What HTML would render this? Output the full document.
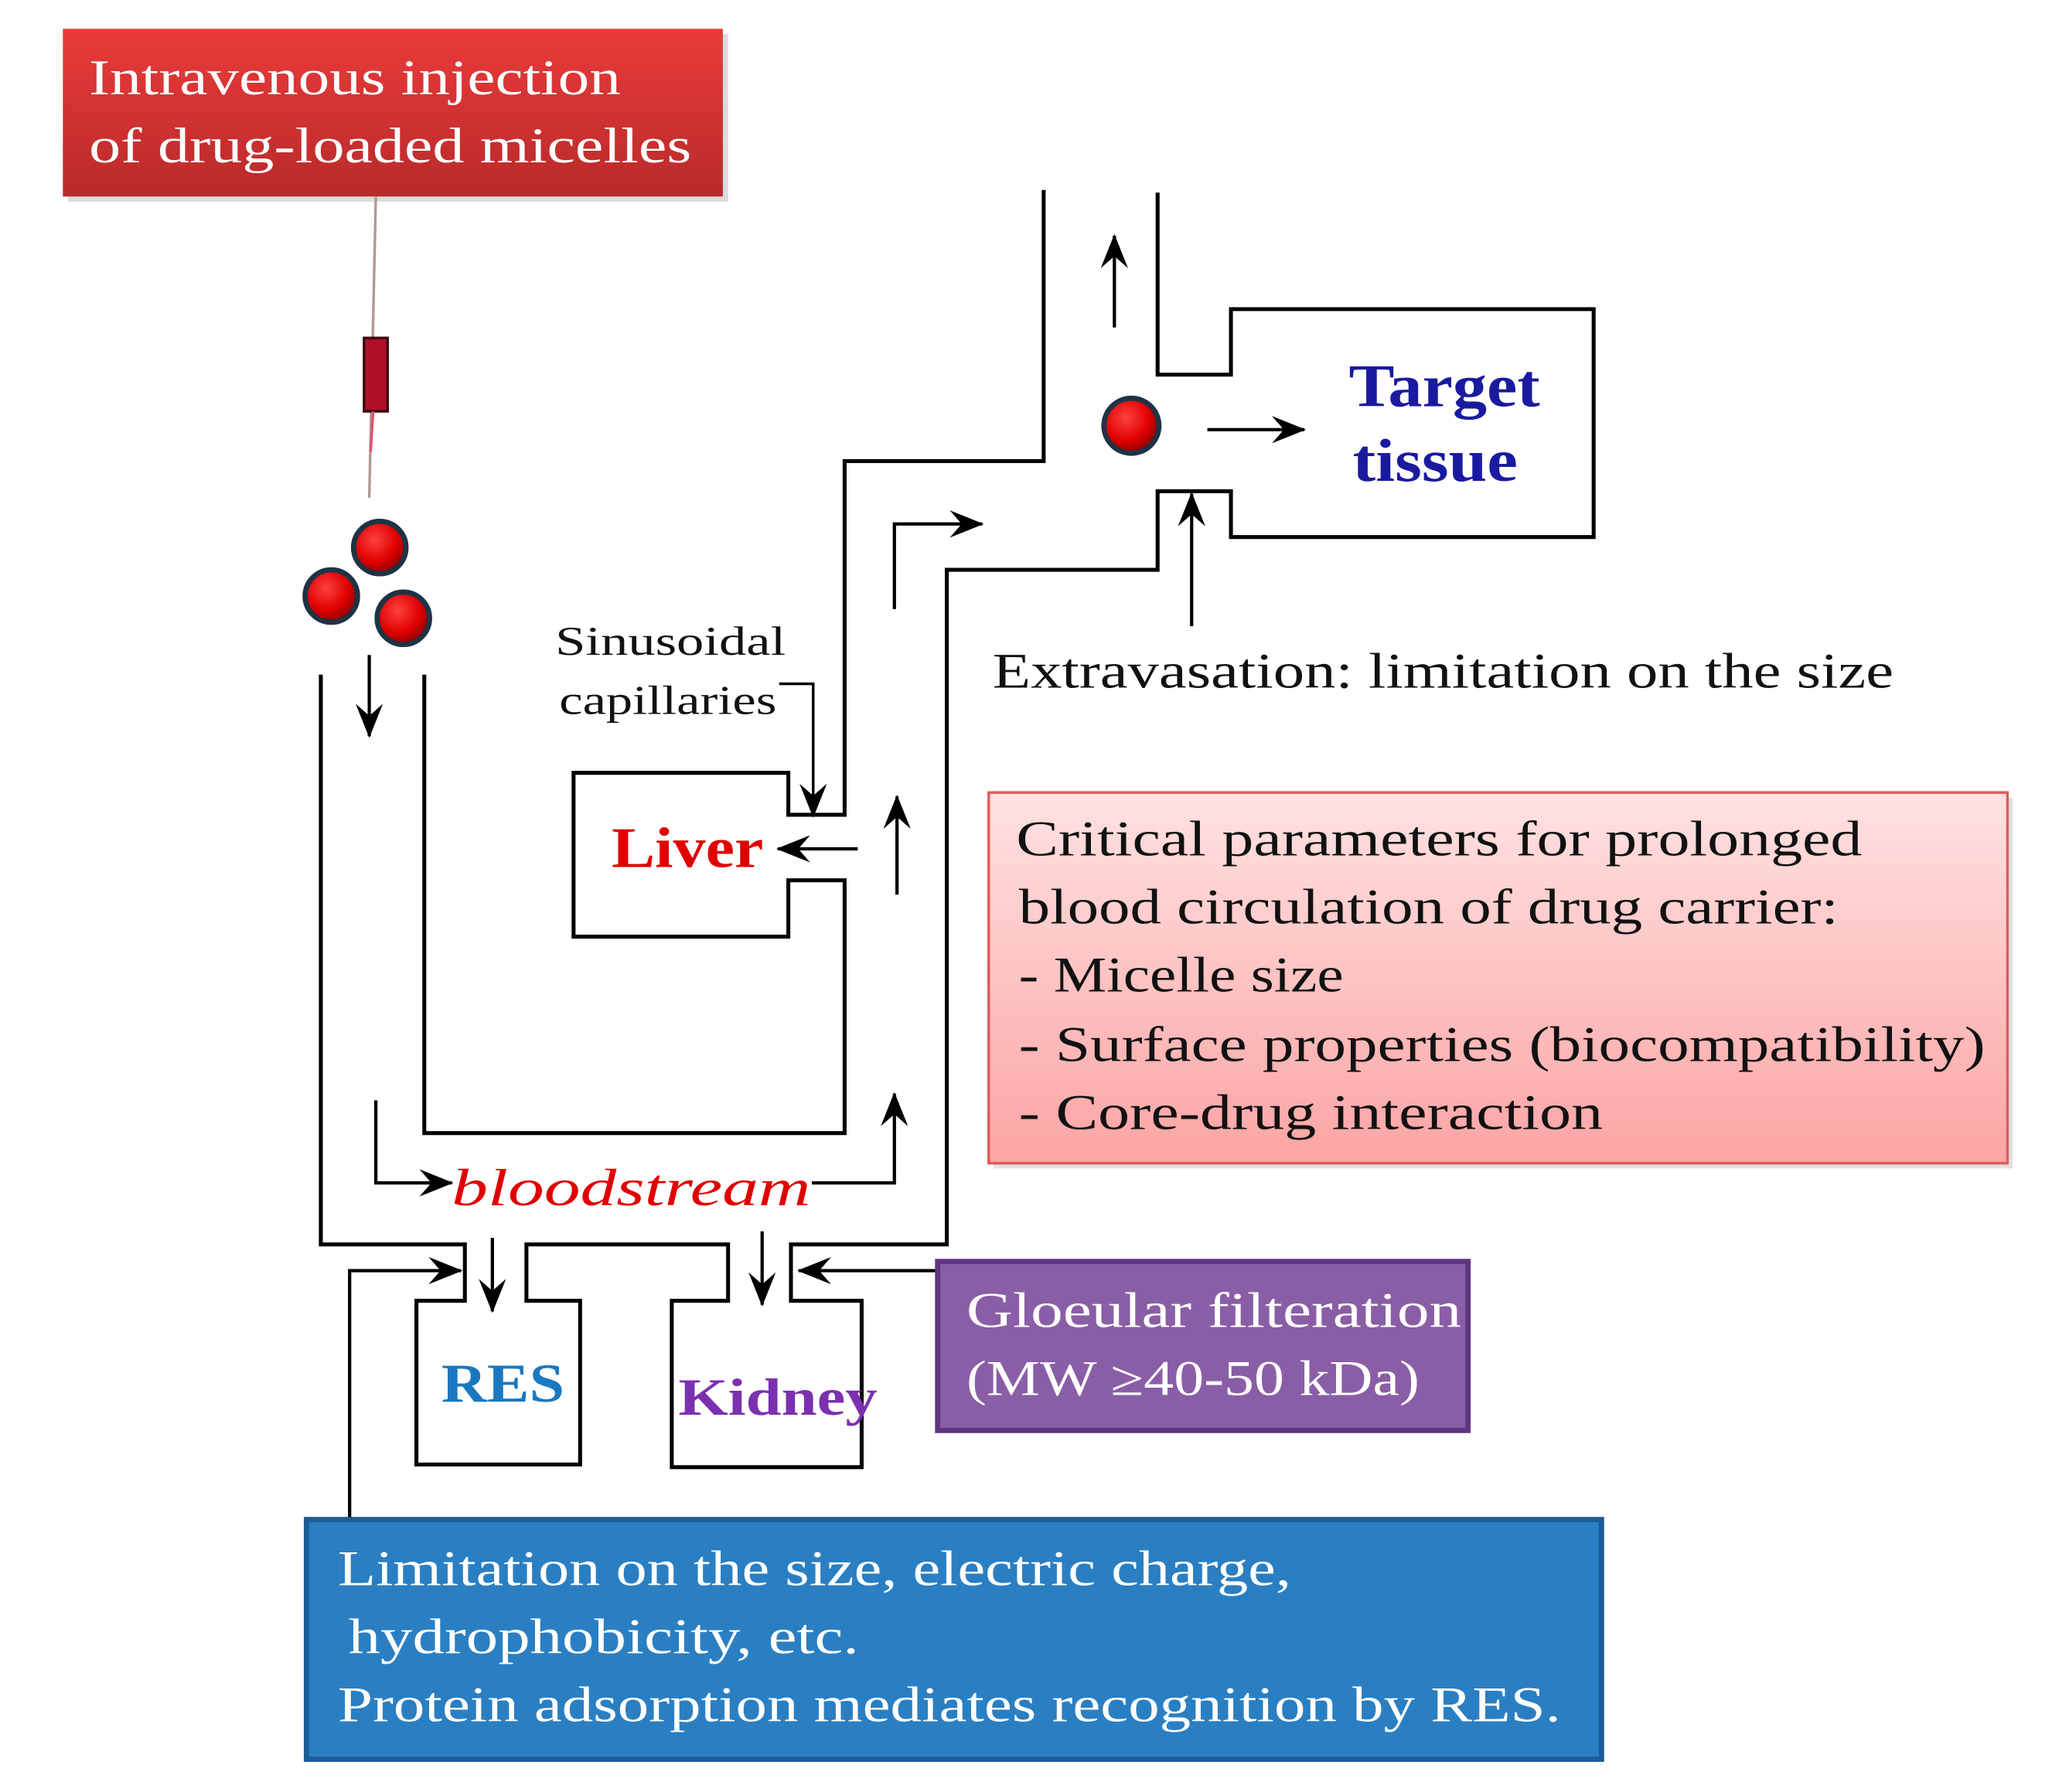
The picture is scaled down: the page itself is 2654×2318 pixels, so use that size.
<!DOCTYPE html>
<html><head><meta charset="utf-8"><style>
html,body{margin:0;padding:0;background:#fff;}
svg{display:block;}
text{font-family:"Liberation Serif",serif;}
</style></head><body>
<svg width="2654" height="2318" viewBox="0 0 1567 1368" preserveAspectRatio="none" xmlns="http://www.w3.org/2000/svg">
<defs>
<linearGradient id="gr" x1="0" y1="0" x2="0" y2="1"><stop offset="0" stop-color="#ea3b3a"/><stop offset="1" stop-color="#b82a2a"/></linearGradient>
<linearGradient id="gp" x1="0" y1="0" x2="0" y2="1"><stop offset="0" stop-color="#ffe2e2"/><stop offset="1" stop-color="#fca4a4"/></linearGradient>
<radialGradient id="gb" cx="0.4" cy="0.35" r="0.6"><stop offset="0" stop-color="#ff4040"/><stop offset="0.7" stop-color="#e00000"/><stop offset="1" stop-color="#a00000"/></radialGradient>
<marker id="ab" viewBox="0 0 20 20" markerWidth="26" markerHeight="26" refX="19" refY="10" orient="auto" markerUnits="userSpaceOnUse"><path d="M0,2 L20,10 L0,18 L7,10 Z" fill="#000"/></marker>
</defs>

<rect x="52" y="26" width="504" height="128" fill="#999" opacity="0.35"/>
<rect x="48" y="22" width="504" height="128" fill="url(#gr)"/>
<text x="68" y="72" font-size="38" fill="#fff" textLength="406" lengthAdjust="spacingAndGlyphs">Intravenous injection</text>
<text x="68" y="124" font-size="38" fill="#fff" textLength="460" lengthAdjust="spacingAndGlyphs">of drug-loaded micelles</text>

<line x1="287" y1="150" x2="282" y2="380" stroke="#b09a90" stroke-width="2"/>
<rect x="278" y="258" width="18" height="56" fill="#b0102a" stroke="#3a0a10" stroke-width="2"/>
<line x1="285" y1="314" x2="283" y2="345" stroke="#e05070" stroke-width="2"/>

<g stroke="#1f3345" stroke-width="4" fill="url(#gb)">
<circle cx="290" cy="418" r="20"/><circle cx="253" cy="455" r="20"/><circle cx="308" cy="472" r="20"/>
<circle cx="864" cy="325" r="21"/>
</g>

<g fill="none" stroke="#000" stroke-width="3">
<polyline points="245,515 245,950 355,950 355,993 318,993 318,1118 443,1118 443,993 402,993 402,950 556,950 556,993 513,993 513,1120 658,1120 658,993 604,993 604,950 723,950 723,435 884,435 884,375 940,375 940,410 1217,410 1217,236 940,236 940,286 884,286 884,147"/>
<polyline points="324,515 324,865 645,865 645,672 602,672 602,715 438,715 438,590 602,590 602,622 645,622 645,352 797,352 797,145"/>
</g>

<g fill="none" stroke="#000" stroke-width="2.5">
<line x1="282" y1="500" x2="282" y2="562" marker-end="url(#ab)"/>
<polyline points="287,840 287,903 345,903" marker-end="url(#ab)"/>
<polyline points="620,903 683,903 683,835" marker-end="url(#ab)"/>
<line x1="376" y1="945" x2="376" y2="1001" marker-end="url(#ab)"/>
<line x1="582" y1="940" x2="582" y2="996" marker-end="url(#ab)"/>
<line x1="715" y1="970" x2="610" y2="970" marker-end="url(#ab)"/>
<polyline points="267,1160 267,970 352,970" marker-end="url(#ab)"/>
<line x1="685" y1="683" x2="685" y2="608" marker-end="url(#ab)"/>
<line x1="655" y1="648" x2="594" y2="648" marker-end="url(#ab)"/>
<polyline points="595,522 621,522 621,623" stroke-width="2" marker-end="url(#ab)"/>
<polyline points="683,465 683,400 750,400" marker-end="url(#ab)"/>
<line x1="851" y1="250" x2="851" y2="180" marker-end="url(#ab)"/>
<line x1="922" y1="328" x2="996" y2="328" marker-end="url(#ab)"/>
<line x1="910" y1="478" x2="910" y2="377" marker-end="url(#ab)"/>
</g>

<text x="345" y="920" font-size="40" font-style="italic" fill="#e00000" textLength="274" lengthAdjust="spacingAndGlyphs">bloodstream</text>
<text x="424" y="500" font-size="31" fill="#111" textLength="176" lengthAdjust="spacingAndGlyphs">Sinusoidal</text>
<text x="427" y="545" font-size="31" fill="#111" textLength="166" lengthAdjust="spacingAndGlyphs">capillaries</text>
<text x="467" y="662" font-size="44" font-weight="bold" fill="#e00000" textLength="116" lengthAdjust="spacingAndGlyphs">Liver</text>
<text x="1030" y="310" font-size="46" font-weight="bold" fill="#1a1aa0" textLength="146" lengthAdjust="spacingAndGlyphs">Target</text>
<text x="1033" y="367" font-size="46" font-weight="bold" fill="#1a1aa0" textLength="126" lengthAdjust="spacingAndGlyphs">tissue</text>
<text x="758" y="525" font-size="38" fill="#111" textLength="688" lengthAdjust="spacingAndGlyphs">Extravasation: limitation on the size</text>
<text x="337" y="1070" font-size="42" font-weight="bold" fill="#1a78c0" textLength="94" lengthAdjust="spacingAndGlyphs">RES</text>
<text x="518" y="1080" font-size="40" font-weight="bold" fill="#7b30b0" textLength="152" lengthAdjust="spacingAndGlyphs">Kidney</text>

<rect x="759" y="609" width="778" height="283" fill="#aaa" opacity="0.35"/>
<rect x="755" y="605" width="778" height="283" fill="url(#gp)" stroke="#e05a5a" stroke-width="2"/>
<g font-size="38" fill="#111">
<text x="776" y="653" textLength="646" lengthAdjust="spacingAndGlyphs">Critical parameters for prolonged</text>
<text x="778" y="705" textLength="626" lengthAdjust="spacingAndGlyphs">blood circulation of drug carrier:</text>
<text x="778" y="757" textLength="248" lengthAdjust="spacingAndGlyphs">- Micelle size</text>
<text x="778" y="810" textLength="738" lengthAdjust="spacingAndGlyphs">- Surface properties (biocompatibility)</text>
<text x="778" y="862" textLength="446" lengthAdjust="spacingAndGlyphs">- Core-drug interaction</text>
</g>

<rect x="716" y="963" width="405" height="129" fill="#8a5ea6" stroke="#5e3680" stroke-width="4"/>
<text x="738" y="1013" font-size="38" fill="#fff" textLength="378" lengthAdjust="spacingAndGlyphs">Gloeular filteration</text>
<text x="738" y="1065" font-size="38" fill="#fff" textLength="346" lengthAdjust="spacingAndGlyphs">(MW ≥40-50 kDa)</text>

<rect x="234" y="1160" width="989" height="183" fill="#2a7fc2" stroke="#1a5c96" stroke-width="4"/>
<g font-size="38" fill="#fff">
<text x="258" y="1210" textLength="728" lengthAdjust="spacingAndGlyphs">Limitation on the size, electric charge,</text>
<text x="266" y="1262" textLength="390" lengthAdjust="spacingAndGlyphs">hydrophobicity, etc.</text>
<text x="258" y="1314" textLength="934" lengthAdjust="spacingAndGlyphs">Protein adsorption mediates recognition by RES.</text>
</g>
</svg>
</body></html>
